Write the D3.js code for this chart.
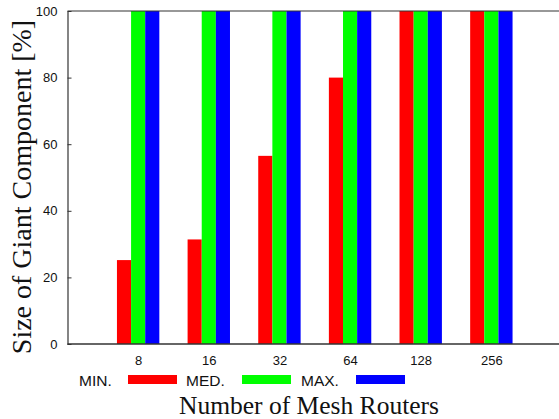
<!DOCTYPE html>
<html>
<head>
<meta charset="utf-8">
<script src="https://cdn.jsdelivr.net/npm/d3@7"></script>
<style>
  html, body { margin: 0; padding: 0; background: #fff; }
  svg { display: block; }
</style>
</head>
<body>
<svg id="chart" width="559" height="419"></svg>
<script>
// Network sizes (number of mesh routers)
const categories = ["8", "16", "32", "64", "128", "256"];
// Size of the giant component, percent
const minValues = [25.2, 31.4, 56.5, 80, 100, 100];
const medValues = [100, 100, 100, 100, 100, 100];
const maxValues = [100, 100, 100, 100, 100, 100];
const seriesNames = ["MIN.", "MED.", "MAX."];
const yTicks = [0, 20, 40, 60, 80, 100];

const series = [
  { name: seriesNames[0], values: minValues, color: "#ff0000" },
  { name: seriesNames[1], values: medValues, color: "#00ff00" },
  { name: seriesNames[2], values: maxValues, color: "#0000ff" }
];

const svg = d3.select("#chart");
const plotLeft = 67.5, plotTop = 11, plotBottom = 344, plotRight = 562;

const x = d3.scaleLinear().domain([0, categories.length + 1]).range([plotLeft, plotRight]);
const y = d3.scaleLinear().domain([0, 100]).range([plotBottom, plotTop]);
const barW = (x(1) - x(0)) * 0.2;

// bars
series.forEach((s, si) => {
  svg.append("g")
    .selectAll("rect")
    .data(s.values)
    .join("rect")
    .attr("x", (d, i) => x(i + 1) + (si - 1.5) * barW)
    .attr("y", d => y(d))
    .attr("width", barW)
    .attr("height", d => y(0) - y(d))
    .attr("fill", s.color);
});

// frame: left, top, bottom
const frameColor = "#333";
svg.append("line").attr("x1", plotLeft).attr("x2", 559).attr("y1", plotTop).attr("y2", plotTop)
  .attr("stroke", frameColor).attr("stroke-width", 1.2);
svg.append("line").attr("x1", plotLeft).attr("x2", 559).attr("y1", plotBottom).attr("y2", plotBottom)
  .attr("stroke", frameColor).attr("stroke-width", 1.5);

// y axis with inward ticks
const yAxis = d3.axisLeft(y).tickValues(yTicks).tickSizeInner(-4).tickSizeOuter(0).tickPadding(10);
const gy = svg.append("g").attr("transform", `translate(${plotLeft},0)`).call(yAxis);
gy.select(".domain").attr("stroke", frameColor).attr("stroke-width", 1.2);
gy.selectAll(".tick line").attr("stroke", frameColor);
gy.selectAll("text").attr("font-family", "Liberation Sans, Arial, sans-serif")
  .attr("font-size", 13).attr("fill", "#111");

// x tick labels
const xAxis = d3.axisBottom(x).tickValues(categories.map((c, i) => i + 1))
  .tickFormat((d) => categories[d - 1]).tickSize(0).tickPadding(12);
const gx = svg.append("g").attr("transform", `translate(0,${plotBottom})`).call(xAxis);
gx.select(".domain").remove();
gx.selectAll("text").attr("font-family", "Liberation Sans, Arial, sans-serif")
  .attr("font-size", 13).attr("fill", "#111");

// legend
const legendPos = [{ tx: 79, sx: 128 }, { tx: 186, sx: 242 }, { tx: 301, sx: 356 }];
series.forEach((s, i) => {
  svg.append("text").attr("x", legendPos[i].tx).attr("y", 386)
    .attr("font-family", "Liberation Sans, Arial, sans-serif").attr("font-size", 15.5)
    .attr("fill", "#111").text(s.name);
  svg.append("rect").attr("x", legendPos[i].sx).attr("y", 375)
    .attr("width", 49).attr("height", 9).attr("fill", s.color);
});

// axis titles
svg.append("text").attr("x", 309).attr("y", 414).attr("text-anchor", "middle")
  .attr("font-family", "Liberation Serif, Times New Roman, serif").attr("font-size", 25.5)
  .attr("fill", "#111").text("Number of Mesh Routers");
svg.append("text").attr("transform", "translate(31,187) rotate(-90)").attr("text-anchor", "middle")
  .attr("font-family", "Liberation Serif, Times New Roman, serif").attr("font-size", 28)
  .attr("fill", "#111").text("Size of Giant Component [%]");
</script>
</body>
</html>
